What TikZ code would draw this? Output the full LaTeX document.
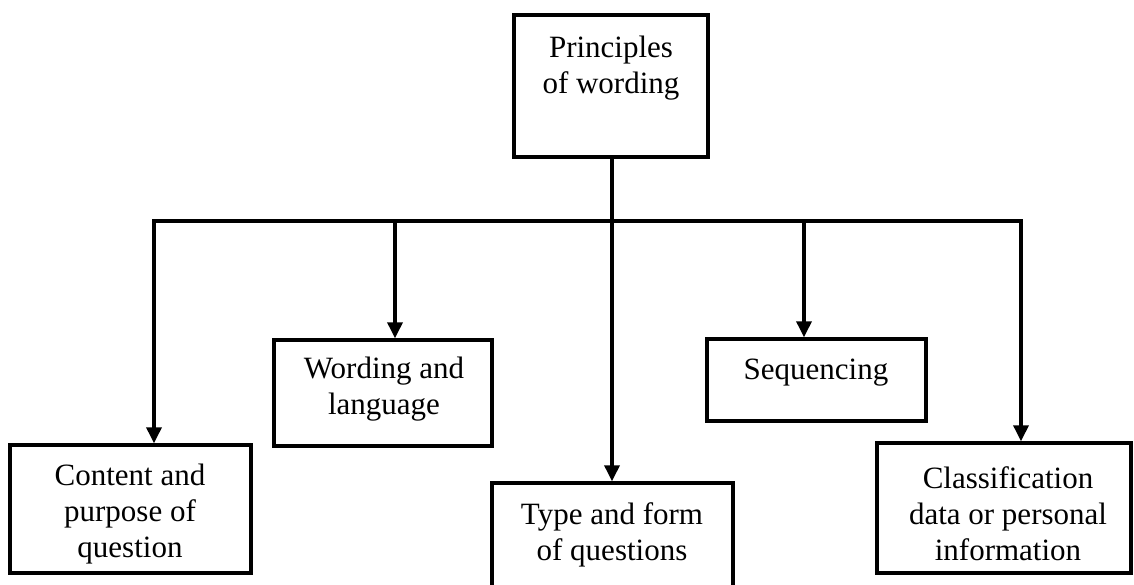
\documentclass[tikz,border=0pt]{standalone}
\usepackage{fontspec}
\setmainfont{Liberation Serif}
\usetikzlibrary{arrows.meta}
\begin{document}
\begin{tikzpicture}[x=1pt,y=-1pt,
  box/.style={draw, line width=3.4pt, rectangle, inner sep=0pt},
  txt/.style={align=center, inner sep=0pt, font=\fontsize{31}{36}\selectfont},
  wire/.style={line width=3.4pt},
  arrowline/.style={line width=3.4pt, -{Triangle[width=15pt,length=16pt]}}]
\useasboundingbox (0,0) rectangle (1134,584);
\clip (0,0) rectangle (1134,584);

% boxes
\node[box, minimum width=194pt, minimum height=142pt] (top) at (611,86) {};
\node[box, minimum width=241pt, minimum height=128pt] (content) at (130.5,509) {};
\node[box, minimum width=218pt, minimum height=106pt] (wording) at (383,393) {};
\node[box, minimum width=241pt, minimum height=140pt] (type) at (612.5,553) {};
\node[box, minimum width=219pt, minimum height=82pt] (seq) at (816.5,380) {};
\node[box, minimum width=254pt, minimum height=130pt] (class) at (1004,508) {};

% labels
\node[txt] (toptext) at (611,68) {Principles\\of wording};
\node[txt] (contenttext) at (130,514) {Content and\\purpose of\\question};
\node[txt] (wordingtext) at (384,389) {Wording and\\language};
\node[txt] (typetext) at (612,535) {Type and form\\of questions};
\node[txt] (seqtext) at (816,373) {Sequencing};
\node[txt] (classtext) at (1008,514) {Classification\\data or personal\\information};

% branching bar
\coordinate (hub) at (612,221);
\coordinate (b1) at (154,221);
\coordinate (b2) at (395,221);
\coordinate (b4) at (804,221);
\coordinate (b5) at (1021,221);

\draw[wire] (top.south -| hub) -- (hub);
\draw[wire, line cap=rect] (b1) -- (b5);
\draw[arrowline] (b1) -- (b1 |- content.north);
\draw[arrowline] (b2) -- (b2 |- wording.north);
\draw[arrowline] (hub) -- (hub |- type.north);
\draw[arrowline] (b4) -- (b4 |- seq.north);
\draw[arrowline] (b5) -- (b5 |- class.north);
\end{tikzpicture}
\end{document}
